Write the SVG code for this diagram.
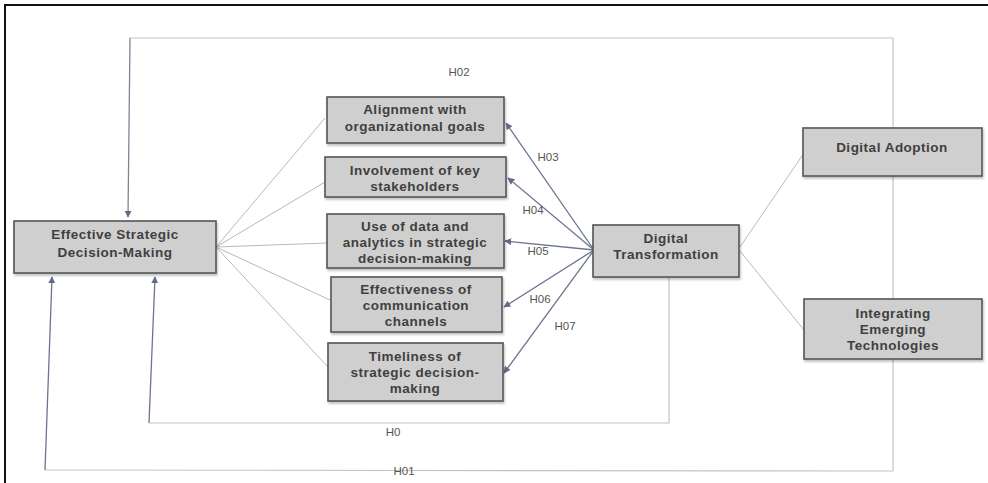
<svg xmlns="http://www.w3.org/2000/svg" width="988" height="483" viewBox="0 0 988 483">
<defs>
<style>
.box{fill:#cfcfcf;stroke:#555;stroke-width:1.6;filter:url(#sh)}
.t{font-family:"Liberation Sans",Arial,sans-serif;font-weight:bold;font-size:13.5px;letter-spacing:0.5px;fill:#404040;text-anchor:middle}
.lbl{font-family:"Liberation Sans",Arial,sans-serif;font-size:11.5px;fill:#555;text-anchor:middle}
.thin{fill:none;stroke:#b8b8b8;stroke-width:1}
.loop{fill:none;stroke:#c4c4c4;stroke-width:1.2}
.arr{fill:none;stroke:#6a7590;stroke-width:1.3;marker-end:url(#ah)}
.arrg{fill:none;stroke:#7d8595;stroke-width:1.3;marker-end:url(#ah)}
</style>
<marker id="ah" viewBox="0 0 10 10" refX="9" refY="5" markerWidth="7" markerHeight="7" orient="auto" markerUnits="userSpaceOnUse">
<path d="M0,0 L10,5 L0,10 z" fill="#5f6b88"/>
</marker>
<filter id="sh" x="-5%" y="-5%" width="115%" height="125%">
<feDropShadow dx="1" dy="2" stdDeviation="1.2" flood-color="#000" flood-opacity="0.25"/>
</filter>
</defs>
<rect width="988" height="483" fill="#fff"/>
<rect x="5" y="5" width="1000" height="500" fill="none" stroke="#111" stroke-width="2"/>

<g id="connectors">
<path class="loop" d="M893,471 L893,38 L130,38"/>
<path class="arrg" d="M130,38 L128,217"/>
<path class="loop" d="M893,471 L45,470"/>
<path class="arr" d="M45,470 L52,277"/>
<path class="loop" d="M669,277 L669,423 L149,423"/>
<path class="arr" d="M149,423 L155,277"/>
<path class="thin" d="M216,247 L325,118"/>
<path class="thin" d="M216,247 L325,182"/>
<path class="thin" d="M216,247 L327,243"/>
<path class="thin" d="M216,247 L330,300"/>
<path class="thin" d="M216,247 L328,367"/>
<path class="thin" d="M740,247 L804,153"/>
<path class="thin" d="M740,251 L804,330"/>
<path class="arr" d="M594,250 L506,123"/>
<path class="arr" d="M594,250 L508,178"/>
<path class="arr" d="M594,250 L505,241"/>
<path class="arr" d="M594,250 L504,307"/>
<path class="arr" d="M594,250 L504,373"/>
<text class="lbl" x="459" y="76">H02</text>
<text class="lbl" x="548" y="161">H03</text>
<text class="lbl" x="533" y="214">H04</text>
<text class="lbl" x="538" y="255">H05</text>
<text class="lbl" x="540" y="303">H06</text>
<text class="lbl" x="565" y="330">H07</text>
<text class="lbl" x="393" y="436">H0</text>
<text class="lbl" x="404" y="475">H01</text>
</g>

<g id="esdm">
<rect class="box" x="14" y="221" width="202" height="52"/>
<text class="t" x="115" y="239">Effective Strategic</text>
<text class="t" x="115" y="257">Decision-Making</text>
</g>

<g id="alignment">
<rect class="box" x="327" y="97" width="177" height="46"/>
<text class="t" x="415" y="114">Alignment with</text>
<text class="t" x="415" y="131">organizational goals</text>
</g>

<g id="involvement">
<rect class="box" x="325" y="157" width="181" height="40"/>
<text class="t" x="415" y="175">Involvement of key</text>
<text class="t" x="415" y="191">stakeholders</text>
</g>

<g id="data">
<rect class="box" x="327" y="214" width="177" height="54"/>
<text class="t" x="415" y="231">Use of data and</text>
<text class="t" x="415" y="247">analytics in strategic</text>
<text class="t" x="415" y="263">decision-making</text>
</g>

<g id="communication">
<rect class="box" x="331" y="277" width="171" height="55"/>
<text class="t" x="416" y="294">Effectiveness of</text>
<text class="t" x="416" y="310">communication</text>
<text class="t" x="416" y="326">channels</text>
</g>

<g id="timeliness">
<rect class="box" x="328" y="343" width="175" height="58"/>
<text class="t" x="415" y="361">Timeliness of</text>
<text class="t" x="415" y="377">strategic decision-</text>
<text class="t" x="415" y="393">making</text>
</g>

<g id="dt">
<rect class="box" x="593" y="225" width="146" height="52"/>
<text class="t" x="666" y="243">Digital</text>
<text class="t" x="666" y="259">Transformation</text>
</g>

<g id="adoption">
<rect class="box" x="803" y="128" width="179" height="48"/>
<text class="t" x="892" y="152">Digital Adoption</text>
</g>

<g id="emerging">
<rect class="box" x="804" y="299" width="178" height="60"/>
<text class="t" x="893" y="318">Integrating</text>
<text class="t" x="893" y="334">Emerging</text>
<text class="t" x="893" y="350">Technologies</text>
</g>
</svg>
